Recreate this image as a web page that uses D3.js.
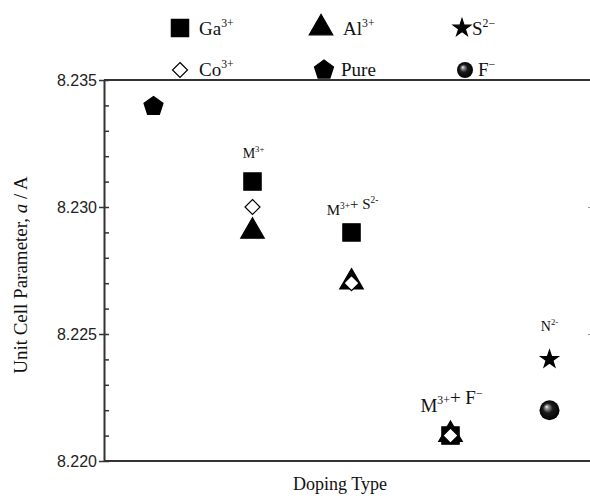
<!DOCTYPE html>
<html>
<head>
<meta charset="utf-8">
<script src="https://cdn.jsdelivr.net/npm/d3@7"></script>
<style>
  body { margin: 0; background: #fff; }
  text { fill: #111; }
</style>
</head>
<body>
<div id="chart"></div>
<script>
// Data
const categories = ["Pure", "M3+", "M3+ + S2-", "M3+ + F-", "N2-"];
const pureVals = [8.234, null, null, null, null];
const gaVals   = [null, 8.231, 8.229, 8.221, null];
const alVals   = [null, 8.229, 8.227, 8.221, null];
const coVals   = [null, 8.230, 8.227, 8.221, null];
const sVals    = [null, null, null, null, 8.224];
const fVals    = [null, null, null, null, 8.222];
const yTicks = [8.220, 8.225, 8.230, 8.235];

let width = 590, height = 496;
let margin = { top: 80, bottom: 35, left: 104, right: -2 };

let svg = d3.select("#chart")
    .append("svg")
    .attr("width", width)
    .attr("height", height);

let defs = svg.append("defs");
let grad = defs.append("radialGradient")
    .attr("id", "ball")
    .attr("cx", "50%").attr("cy", "50%").attr("r", "55%")
    .attr("fx", "35%").attr("fy", "32%");
grad.append("stop").attr("offset", "0%").attr("stop-color", "#fafafa");
grad.append("stop").attr("offset", "15%").attr("stop-color", "#999");
grad.append("stop").attr("offset", "45%").attr("stop-color", "#1a1a1a");
grad.append("stop").attr("offset", "100%").attr("stop-color", "#000");

let x = d3.scalePoint()
    .domain(categories)
    .range([margin.left, margin.left + 99 * 5])
    .padding(0.5);

let y = d3.scaleLinear()
    .domain([8.220, 8.235])
    .range([height - margin.bottom, margin.top]);

let plotRight = width - margin.right;
let axisColor = "#333";

// Left axis: major ticks outward, all ticks inward
let left = svg.append("g")
    .attr("transform", `translate(${margin.left},0)`)
    .call(d3.axisLeft(y).tickValues(yTicks).tickFormat(d3.format(".3f")).tickSize(5).tickSizeOuter(0));
left.selectAll("text")
    .attr("x", -7)
    .style("font-family", "Liberation Sans, Arial, sans-serif")
    .style("font-size", "16px")
    .style("fill", "#222");
left.select(".domain").attr("stroke", axisColor).attr("stroke-width", 2);
left.selectAll(".tick line").attr("stroke", axisColor).attr("stroke-width", 1.5);

let minor = d3.range(0, 16).map(i => 8.220 + i * 0.001);
let inner = svg.append("g")
    .attr("transform", `translate(${margin.left},0)`)
    .call(d3.axisRight(y).tickValues(minor).tickFormat("").tickSize(5).tickSizeOuter(0));
inner.select(".domain").remove();
inner.selectAll(".tick line").attr("stroke", axisColor).attr("stroke-width", 1.5);

// Right axis, mostly outside the window
let right = svg.append("g")
    .attr("transform", `translate(${plotRight},0)`)
    .call(d3.axisLeft(y).tickValues(yTicks).tickFormat("").tickSize(4).tickSizeOuter(0));
right.select(".domain").attr("stroke", axisColor).attr("stroke-width", 2);
right.selectAll(".tick line").attr("stroke", "#999").attr("stroke-width", 1.2);

// Top and bottom frame lines
[margin.top, height - margin.bottom].forEach(v => {
    svg.append("line")
        .attr("x1", margin.left).attr("x2", plotRight)
        .attr("y1", v).attr("y2", v)
        .attr("stroke", axisColor).attr("stroke-width", 2);
});

// Axis labels
const serif = "Liberation Serif, Times New Roman, serif";
svg.append("text")
    .attr("x", 340)
    .attr("y", 490)
    .attr("text-anchor", "middle")
    .style("font-family", serif)
    .style("font-size", "18px")
    .text("Doping Type");

let yl = svg.append("text")
    .attr("transform", "rotate(-90)")
    .attr("x", -275)
    .attr("y", 27)
    .attr("text-anchor", "middle")
    .style("font-family", serif)
    .style("font-size", "19px");
yl.append("tspan").text("Unit Cell Parameter, ");
yl.append("tspan").style("font-style", "italic").text("a");
yl.append("tspan").text(" / A");

// Marker shapes
const sym = {
    square: d3.symbol().type(d3.symbolSquare).size(300)(),
    triangle: d3.symbol().type(d3.symbolTriangle).size(240)(),
    diamond: "M0,-7.5L7.5,0L0,7.5L-7.5,0Z",
    star: d3.symbol().type(d3.symbolStar).size(95)(),
    pentagon: d3.range(5).map(i => {
        let a = -Math.PI / 2 + i * 2 * Math.PI / 5;
        return [10 * Math.cos(a), 10 * Math.sin(a) + 1];
    })
};
const pentPath = "M" + sym.pentagon.map(p => p.join(",")).join("L") + "Z";

function drawSeries(vals, shape, fill, stroke, dy) {
    svg.append("g").selectAll("path")
        .data(categories.map((c, i) => ({ c, v: vals[i] })).filter(d => d.v !== null))
        .enter()
        .append("path")
        .attr("transform", d => `translate(${x(d.c)},${y(d.v) + (dy || 0)})`)
        .attr("d", shape)
        .attr("fill", fill)
        .attr("stroke", stroke)
        .attr("stroke-width", 1.2);
}

drawSeries(pureVals, pentPath, "#000", "#000");
drawSeries(gaVals, sym.square, "#000", "#000");
drawSeries(alVals, sym.triangle, "#000", "#000", -1);
drawSeries(coVals, sym.diamond, "#fff", "#000");
drawSeries(sVals, sym.star, "#000", "#000");

svg.append("g").selectAll("circle")
    .data(categories.map((c, i) => ({ c, v: fVals[i] })).filter(d => d.v !== null))
    .enter()
    .append("circle")
    .attr("cx", d => x(d.c))
    .attr("cy", d => y(d.v))
    .attr("r", 10)
    .attr("fill", "url(#ball)");

// Group annotations
function label(g, cx, cy, size, parts) {
    let t = g.append("text")
        .attr("x", cx).attr("y", cy)
        .attr("text-anchor", "middle")
        .style("font-family", serif)
        .style("font-size", size + "px");
    parts.forEach(p => {
        if (p.sup) {
            t.append("tspan").attr("dy", -size * 0.4).style("font-size", (size * 0.62) + "px").text(p.sup);
            t.append("tspan").attr("dy", size * 0.4).text("");
        } else {
            t.append("tspan").text(p.t);
        }
    });
    return t;
}
label(svg, x("M3+") + 1, 158, 14, [{ t: "M" }, { sup: "3+" }]);
label(svg, x("M3+ + S2-") + 1, 215, 15, [{ t: "M" }, { sup: "3+" }, { t: "+ S" }, { sup: "2-" }]);
label(svg, x("M3+ + F-") + 1, 412, 19, [{ t: "M" }, { sup: "3+" }, { t: "+ F" }, { sup: "\u2212" }]);
label(svg, x("N2-"), 331, 14, [{ t: "N" }, { sup: "2-" }]);

// Legend
const legend = [
    { shape: sym.square, fill: "#000", lx: 180, ly: 28, tx: 199, ty: 35, name: "Ga", sup: "3+" },
    { shape: sym.triangle, fill: "#000", lx: 321, ly: 28, tx: 343, ty: 35, name: "Al", sup: "3+" },
    { shape: sym.star, fill: "#000", lx: 462, ly: 28, tx: 472, ty: 35, name: "S", sup: "2\u2212" },
    { shape: sym.diamond, fill: "#fff", lx: 180, ly: 70, tx: 199, ty: 76, name: "Co", sup: "3+" },
    { shape: pentPath, fill: "#000", lx: 324, ly: 69, tx: 341, ty: 76, name: "Pure", sup: "" },
    { shape: null, fill: "url(#ball)", lx: 465, ly: 70, tx: 478, ty: 76, name: "F", sup: "\u2212" }
];
legend.forEach(d => {
    if (d.shape) {
        svg.append("path")
            .attr("transform", `translate(${d.lx},${d.ly})`)
            .attr("d", d.shape)
            .attr("fill", d.fill)
            .attr("stroke", "#000")
            .attr("stroke-width", 1.2);
    } else {
        svg.append("circle")
            .attr("cx", d.lx).attr("cy", d.ly).attr("r", 8)
            .attr("fill", d.fill);
    }
    let parts = [{ t: d.name }];
    if (d.sup) parts.push({ sup: d.sup });
    label(svg, d.tx, d.ty, 19, parts).attr("text-anchor", "start");
});
</script>
</body>
</html>
